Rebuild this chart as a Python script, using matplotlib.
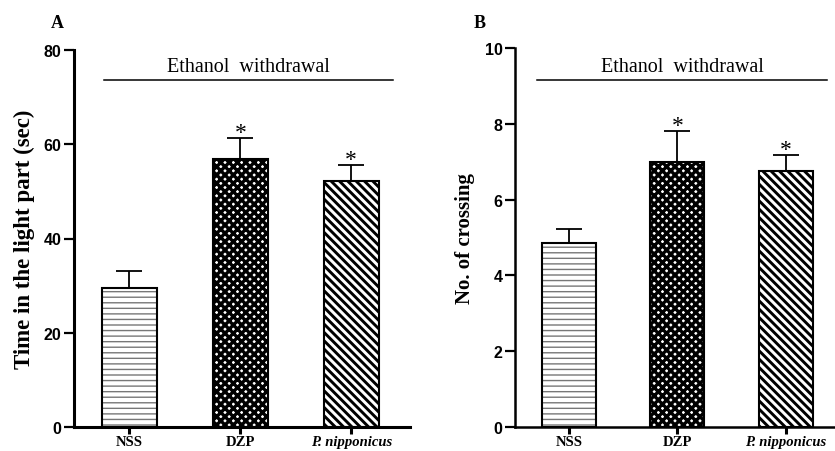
import matplotlib
matplotlib.use('Agg')
import matplotlib.pyplot as plt
import numpy as np

# group names and means +- SEM
groups = ['NSS', 'DZP', 'P. nipponicus']
light_time = [29.5, 56.9, 52.2]
light_time_err = [3.6, 4.5, 3.4]
crossings = [4.85, 6.99, 6.75]
crossings_err = [0.37, 0.82, 0.43]
significant = [False, True, True]

hatches = ['---', 'xxxx', '\\\\\\\\']
hatch_colors = ['#777777', 'black', 'black']
hatch_widths = [1.0, 2.4, 2.1]

SERIF = 'Liberation Serif'
SANS = 'Liberation Sans'


def draw_panel(ax, values, errors, ylim, yticks, ylabel, label_x, spine_w,
               bracket, text_y, ylabel_size):
    x = np.arange(len(groups))
    for i in range(len(groups)):
        b = ax.bar(x[i], values[i], 0.5, color='white', edgecolor=hatch_colors[i],
                   hatch=hatches[i], linewidth=0, zorder=2)
        for p in b:
            if hasattr(p, 'set_hatch_linewidth'):
                p.set_hatch_linewidth(hatch_widths[i])
    ax.bar(x, values, 0.5, fill=False, edgecolor='black', linewidth=1.5, zorder=3)
    ax.errorbar(x, values, yerr=[np.zeros(len(values)), errors], fmt='none',
                ecolor='black', elinewidth=1.3, capsize=9.5, capthick=1.3, zorder=1)

    for i, (v, e) in enumerate(zip(values, errors)):
        if significant[i]:
            ax.annotate('*', (x[i], v + e), xytext=(0, 0), textcoords='offset points',
                        ha='center', va='baseline', fontsize=17, family=SERIF)

    ax.set_xlim(-0.5, 2.53)
    ax.set_ylim(*ylim)
    ax.set_yticks(yticks)
    ax.set_xticks(x)
    ax.set_xticklabels(groups, family=SERIF, weight='bold', fontsize=10.5)
    ax.get_xticklabels()[2].set_style('italic')
    for lab in ax.get_yticklabels():
        lab.set_family(SANS)
        lab.set_weight('bold')
        lab.set_fontsize(11.5)
    ax.tick_params(axis='y', length=7, width=1.6, pad=2)
    ax.tick_params(axis='x', length=5, width=2.2, pad=1)

    for s in ['top', 'right']:
        ax.spines[s].set_visible(False)
    for s in ['left', 'bottom']:
        ax.spines[s].set_linewidth(spine_w)

    ax.set_ylabel(ylabel, family=SERIF, weight='bold', fontsize=ylabel_size)
    ax.yaxis.set_label_coords(label_x, 0.5)

    ax.plot(bracket, [text_y[0], text_y[0]], color='black', lw=1.1,
            transform=ax.transAxes, clip_on=False)
    ax.text(text_y[2], text_y[1], 'Ethanol  withdrawal', transform=ax.transAxes,
            ha='center', va='baseline', family=SERIF, fontsize=14.5)


fig = plt.figure(figsize=(8.35, 4.52), dpi=100)
ax_a = fig.add_axes([74 / 835, 24 / 452, 336 / 835, 377 / 452])
ax_b = fig.add_axes([515 / 835, 24 / 452, 328 / 835, 379 / 452])

draw_panel(ax_a, light_time, light_time_err, (0, 80), [0, 20, 40, 60, 80],
           'Time in the light part (sec)', -0.116, 2.2,
           [0.089, 0.95], (0.921, 0.944, 0.518), 16.5)
draw_panel(ax_b, crossings, crossings_err, (0, 10), [0, 2, 4, 6, 8, 10],
           'No. of crossing', -0.122, 1.8,
           [0.067, 0.951], (0.916, 0.939, 0.509), 15)

fig.text(57 / 835, 1 - 23 / 452, 'A', family=SERIF, weight='bold', fontsize=13,
         ha='center', va='center')
fig.text(480 / 835, 1 - 23 / 452, 'B', family=SERIF, weight='bold', fontsize=13,
         ha='center', va='center')

fig.savefig('out.png', dpi=100)
